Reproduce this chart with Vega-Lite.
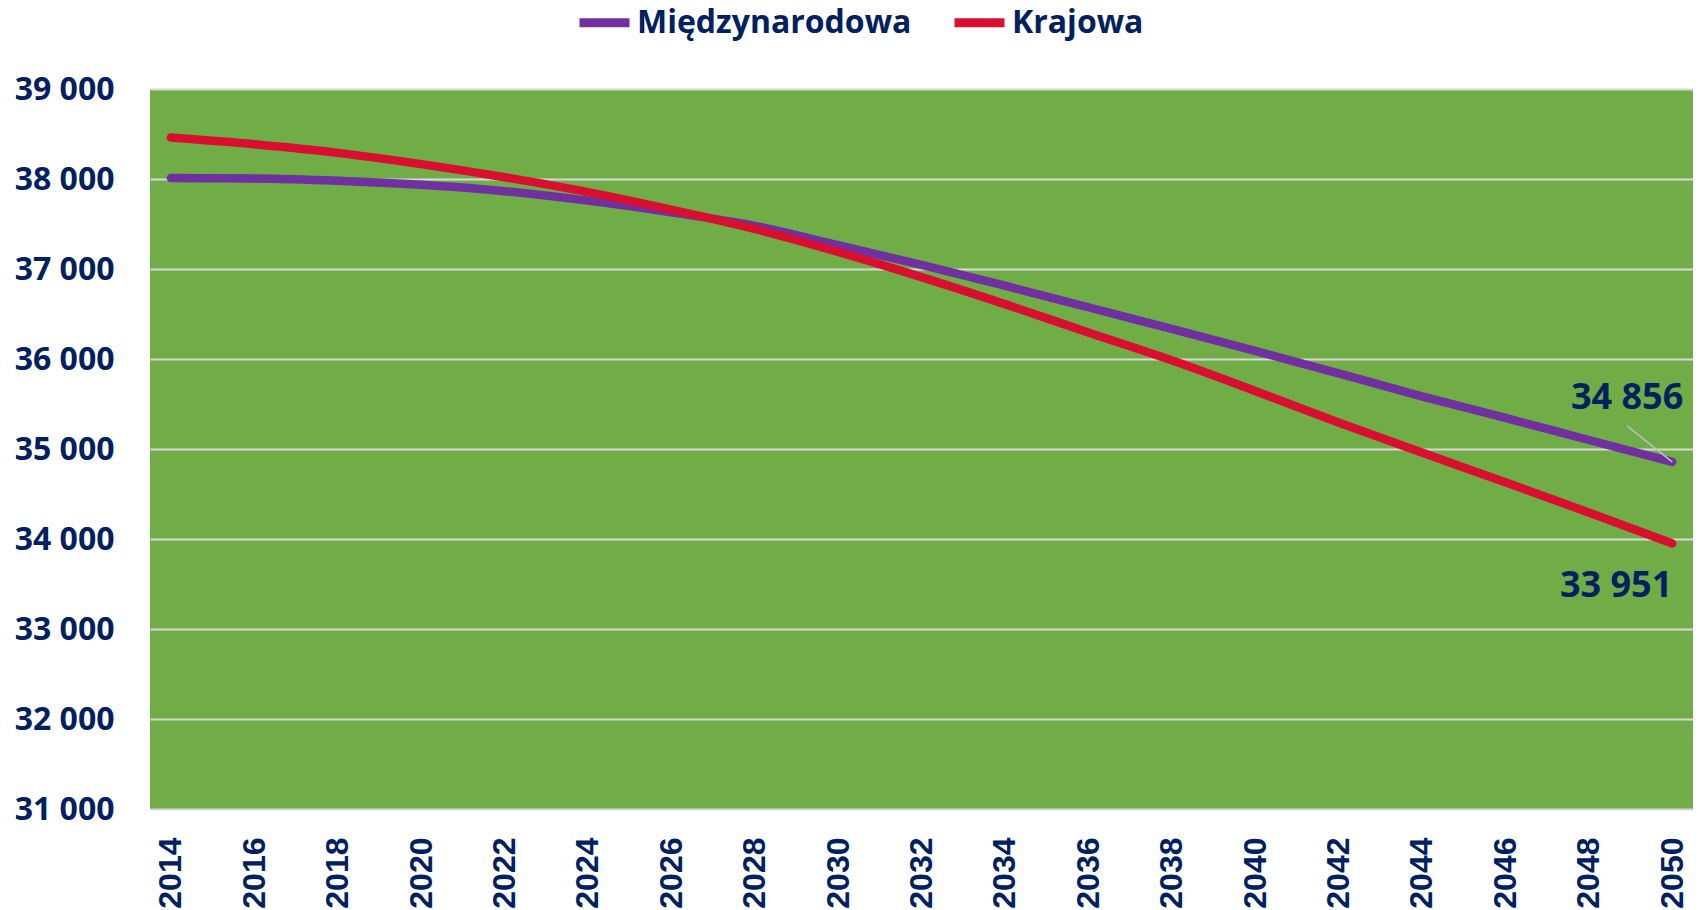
{
  "$schema": "https://vega.github.io/schema/vega-lite/v6.json",
  "width": 1543,
  "height": 720,
  "autosize": {"type": "none"},
  "padding": {"left": 150, "top": 89, "right": 9, "bottom": 101},
  "background": "white",
  "config": {
    "view": {"fill": "#70AD47", "stroke": null}
  },
  "datasets": {
    "main": [
      {"rok": 2014, "seria": "Międzynarodowa", "wartosc": 38010},
      {"rok": 2016, "seria": "Międzynarodowa", "wartosc": 38005},
      {"rok": 2018, "seria": "Międzynarodowa", "wartosc": 37980},
      {"rok": 2020, "seria": "Międzynarodowa", "wartosc": 37935},
      {"rok": 2022, "seria": "Międzynarodowa", "wartosc": 37865},
      {"rok": 2024, "seria": "Międzynarodowa", "wartosc": 37760},
      {"rok": 2026, "seria": "Międzynarodowa", "wartosc": 37630},
      {"rok": 2028, "seria": "Międzynarodowa", "wartosc": 37480},
      {"rok": 2030, "seria": "Międzynarodowa", "wartosc": 37265},
      {"rok": 2032, "seria": "Międzynarodowa", "wartosc": 37045},
      {"rok": 2034, "seria": "Międzynarodowa", "wartosc": 36815},
      {"rok": 2036, "seria": "Międzynarodowa", "wartosc": 36575},
      {"rok": 2038, "seria": "Międzynarodowa", "wartosc": 36335},
      {"rok": 2040, "seria": "Międzynarodowa", "wartosc": 36090},
      {"rok": 2042, "seria": "Międzynarodowa", "wartosc": 35840},
      {"rok": 2044, "seria": "Międzynarodowa", "wartosc": 35585},
      {"rok": 2046, "seria": "Międzynarodowa", "wartosc": 35345},
      {"rok": 2048, "seria": "Międzynarodowa", "wartosc": 35100},
      {"rok": 2050, "seria": "Międzynarodowa", "wartosc": 34856},
      {"rok": 2014, "seria": "Krajowa", "wartosc": 38460},
      {"rok": 2016, "seria": "Krajowa", "wartosc": 38385},
      {"rok": 2018, "seria": "Krajowa", "wartosc": 38290},
      {"rok": 2020, "seria": "Krajowa", "wartosc": 38165},
      {"rok": 2022, "seria": "Krajowa", "wartosc": 38020},
      {"rok": 2024, "seria": "Krajowa", "wartosc": 37855},
      {"rok": 2026, "seria": "Krajowa", "wartosc": 37660},
      {"rok": 2028, "seria": "Krajowa", "wartosc": 37445},
      {"rok": 2030, "seria": "Krajowa", "wartosc": 37190},
      {"rok": 2032, "seria": "Krajowa", "wartosc": 36910},
      {"rok": 2034, "seria": "Krajowa", "wartosc": 36610},
      {"rok": 2036, "seria": "Krajowa", "wartosc": 36295},
      {"rok": 2038, "seria": "Krajowa", "wartosc": 35985},
      {"rok": 2040, "seria": "Krajowa", "wartosc": 35645},
      {"rok": 2042, "seria": "Krajowa", "wartosc": 35295},
      {"rok": 2044, "seria": "Krajowa", "wartosc": 34960},
      {"rok": 2046, "seria": "Krajowa", "wartosc": 34630},
      {"rok": 2048, "seria": "Krajowa", "wartosc": 34295},
      {"rok": 2050, "seria": "Krajowa", "wartosc": 33951}
    ],
    "labels": [
      {"rok": 2050, "seria": "Międzynarodowa", "wartosc": 34856, "tekst": "34 856"},
      {"rok": 2050, "seria": "Krajowa", "wartosc": 33951, "tekst": "33 951"}
    ],
    "leader": [
      {"rok": 2050, "wartosc": 34856, "rok2": 2048.92, "wartosc2": 35256}
    ]
  },
  "layer": [
    {
      "data": {"name": "main"},
      "mark": {"type": "line", "strokeWidth": 8.5, "strokeCap": "round", "strokeJoin": "round", "interpolate": "monotone"},
      "encoding": {
        "x": {
          "field": "rok", "type": "quantitative",
          "scale": {"domain": [2013.5, 2050.5], "nice": false, "zero": false},
          "axis": {
            "values": [2014, 2016, 2018, 2020, 2022, 2024, 2026, 2028, 2030, 2032, 2034, 2036, 2038, 2040, 2042, 2044, 2046, 2048, 2050],
            "format": "d",
            "title": null,
            "grid": false,
            "ticks": false,
            "domain": false,
            "labelAngle": -90,
            "labelAlign": "right",
            "labelBaseline": "middle",
            "labelPadding": 28,
            "labelFont": "Liberation Sans",
            "labelFontWeight": "bold",
            "labelFontSize": 32,
            "labelColor": "#002060",
            "labelOverlap": false,
            "labelFlush": false
          }
        },
        "y": {
          "field": "wartosc", "type": "quantitative",
          "scale": {"domain": [31000, 39000], "nice": false, "zero": false},
          "axis": {
            "values": [31000, 32000, 33000, 34000, 35000, 36000, 37000, 38000, 39000],
            "labelExpr": "replace(format(datum.value, ','), ',', ' ')",
            "title": null,
            "grid": true,
            "gridColor": "#D9D9D9",
            "gridWidth": 2,
            "gridOpacity": 1,
            "ticks": false,
            "domain": false,
            "labelPadding": 36,
            "labelFont": "Open Sans",
            "labelFontWeight": "bold",
            "labelFontSize": 32,
            "labelColor": "#002060",
            "labelOverlap": false,
            "labelFlush": false
          }
        },
        "color": {
          "field": "seria", "type": "nominal",
          "scale": {"domain": ["Międzynarodowa", "Krajowa"], "range": ["#7030A0", "#D80F2E"]},
          "legend": {
            "title": null,
            "orient": "none",
            "direction": "horizontal",
            "legendX": 425,
            "legendY": -96,
            "symbolType": "stroke",
            "symbolStrokeWidth": 9,
            "symbolSize": 2500,
            "labelFont": "Open Sans",
            "labelFontWeight": "bold",
            "labelFontSize": 32,
            "labelColor": "#002060",
            "labelOffset": 3,
            "columnPadding": 24,
            "labelLimit": 400
          }
        }
      }
    },
    {
      "data": {"name": "leader"},
      "mark": {"type": "rule", "color": "#BFBFBF", "strokeWidth": 1.5},
      "encoding": {
        "x": {"field": "rok", "type": "quantitative"},
        "y": {"field": "wartosc", "type": "quantitative"},
        "x2": {"field": "rok2"},
        "y2": {"field": "wartosc2"}
      }
    },
    {
      "data": {"name": "labels"},
      "transform": [{"filter": "datum.seria == 'Międzynarodowa'"}],
      "mark": {"type": "text", "font": "Open Sans", "fontWeight": "bold", "fontSize": 36, "color": "#002060", "dx": -45, "dy": -64, "align": "center", "baseline": "middle"},
      "encoding": {
        "x": {"field": "rok", "type": "quantitative"},
        "y": {"field": "wartosc", "type": "quantitative"},
        "text": {"field": "tekst"}
      }
    },
    {
      "data": {"name": "labels"},
      "transform": [{"filter": "datum.seria == 'Krajowa'"}],
      "mark": {"type": "text", "font": "Open Sans", "fontWeight": "bold", "fontSize": 36, "color": "#002060", "dx": -56, "dy": 43, "align": "center", "baseline": "middle"},
      "encoding": {
        "x": {"field": "rok", "type": "quantitative"},
        "y": {"field": "wartosc", "type": "quantitative"},
        "text": {"field": "tekst"}
      }
    }
  ]
}
